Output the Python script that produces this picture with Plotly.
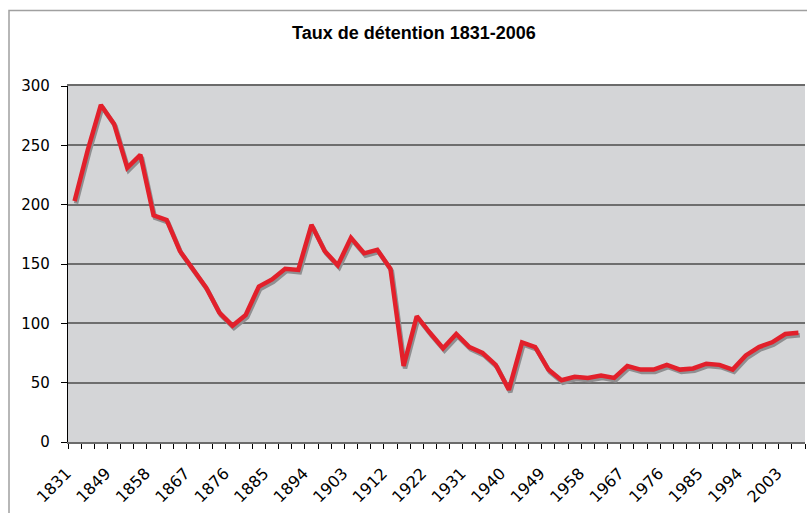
import plotly.graph_objects as go

# Categories (one point per survey year) and detention rate values
years = [1831, 1837, 1843, 1849, 1852, 1855, 1858, 1861, 1864, 1867,
         1870, 1873, 1876, 1879, 1882, 1885, 1888, 1891, 1894, 1897,
         1900, 1903, 1906, 1909, 1912, 1915, 1919, 1922, 1925, 1928,
         1931, 1934, 1937, 1940, 1943, 1946, 1949, 1952, 1955, 1958,
         1961, 1964, 1967, 1970, 1973, 1976, 1979, 1982, 1985, 1988,
         1991, 1994, 1997, 2000, 2003, 2006]
rate = [203, 246, 284, 268, 231, 242, 191, 187, 161, 145,
        130, 109, 98, 107, 131, 137, 146, 145, 183, 161,
        149, 172, 159, 162, 146, 64, 106, 92, 79, 91,
        80, 75, 65, 44, 84, 80, 61, 52, 55, 54,
        56, 54, 64, 61, 61, 65, 61, 62, 66, 65,
        61, 73, 80, 84, 91, 92]
label_every = 3
title_text = "Taux de détention 1831-2006"

idx = list(range(len(years)))
tickvals = idx[::label_every]
ticktext = [str(years[i]) for i in tickvals]

n = len(years)
xr = [-0.5, n - 0.5]
yr = [0, 300]
# shadow offset (in axis units) -> a couple of pixels down/right
dx = 0.11
dy = 2.0

fig = go.Figure()
# shadow trace on base axes (shifted range)
fig.add_trace(go.Scatter(x=idx, y=rate, mode="lines", xaxis="x", yaxis="y",
                         line=dict(color="#8f8f91", width=4.5),
                         hoverinfo="skip", showlegend=False))
# main red line on overlay axes
fig.add_trace(go.Scatter(x=idx, y=rate, mode="lines", xaxis="x2", yaxis="y2",
                         line=dict(color="#e2202b", width=4.5),
                         showlegend=False))

yfont = dict(family="DejaVu Sans, Verdana, sans-serif", size=15, color="#000000")
xfont = dict(family="DejaVu Sans, Verdana, sans-serif", size=16, color="#000000")

fig.update_layout(
    width=807, height=513,
    margin=dict(l=68, r=2, t=86, b=71, autoexpand=False),
    paper_bgcolor="#ffffff",
    plot_bgcolor="#d4d5d7",
    title=dict(text="<b>" + title_text + "</b>", x=0.513, xanchor="center",
               y=1 - 33 / 513, yanchor="middle",
               font=dict(family="Liberation Sans, Arial, sans-serif", size=18, color="#000000")),
    xaxis=dict(range=[xr[0] - dx, xr[1] - dx], visible=False, fixedrange=True, automargin=False),
    yaxis=dict(range=[yr[0] + dy, yr[1] + dy], visible=False, fixedrange=True, automargin=False),
    xaxis2=dict(range=xr, overlaying="x", anchor="y2", side="bottom", automargin=False,
                tickmode="array", tickvals=tickvals, ticktext=ticktext,
                tickangle=-45, ticks="", tickfont=xfont,
                ticklabelstandoff=14, ticklabelshift=-8,
                showgrid=False, zeroline=False,
                showline=True, linecolor="#6b6b6b", linewidth=1.5, mirror=True,
                minor=dict(ticks="outside", tickmode="linear", tick0=-0.5, dtick=1,
                           ticklen=5, tickcolor="#000000", tickwidth=1, showgrid=False)),
    yaxis2=dict(range=yr, overlaying="y", anchor="x2", side="left", automargin=False,
                tickmode="array", tickvals=[0, 50, 100, 150, 200, 250, 300],
                ticks="outside", ticklen=6, tickcolor="#000000", tickwidth=1,
                tickfont=yfont, ticklabelstandoff=8,
                showgrid=True, gridcolor="#6e6e6e", gridwidth=1.6,
                zeroline=False,
                showline=True, linecolor="#000000", linewidth=1.2),
    shapes=[dict(type="rect", xref="paper", yref="paper",
                 x0=(9 - 68) / 737, x1=(830 - 68) / 737,
                 y0=(442 - 540) / 356, y1=(442 - 10.5) / 356,
                 line=dict(color="#a0a0a0", width=1.5), fillcolor="rgba(0,0,0,0)",
                 layer="below")],
)

fig.write_html("out.html", config={"displayModeBar": False},
               post_script="document.body.style.margin='0px';document.body.style.padding='0px';")
